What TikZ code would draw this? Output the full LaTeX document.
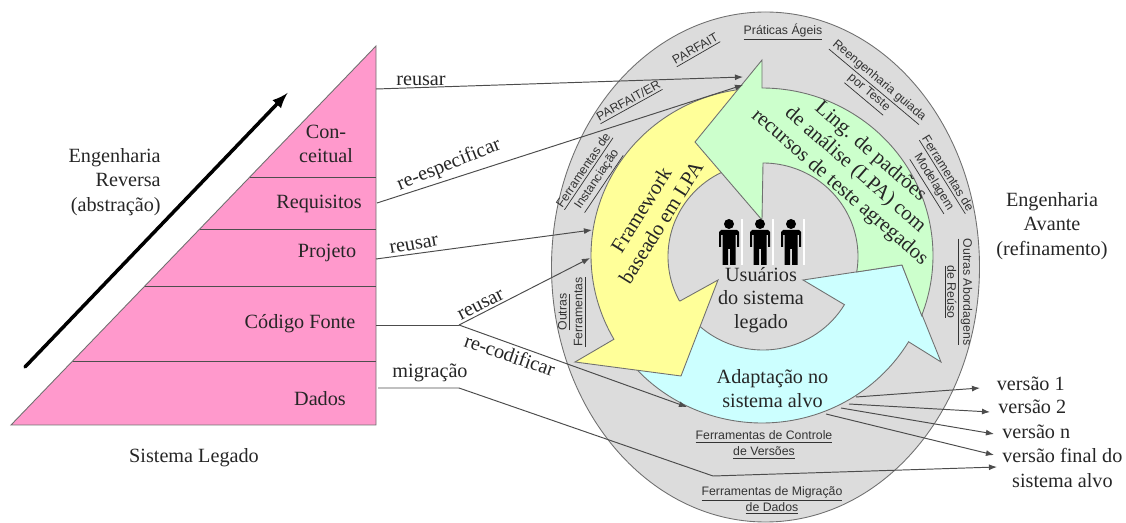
\documentclass[tikz,border=0pt]{standalone}
\usepackage{fontspec}
\setmainfont{Liberation Serif}
\setsansfont{Liberation Sans}
\usetikzlibrary{calc,arrows.meta}
\definecolor{ellipsegray}{HTML}{DCDCDC}
\definecolor{pinklevel}{HTML}{FF99CC}
\definecolor{yellowarrow}{HTML}{FFFF99}
\definecolor{greenarrow}{HTML}{CCFFCC}
\definecolor{cyanarrow}{HTML}{CCFFFF}
\definecolor{edgegray}{HTML}{707070}
\tikzset{
	rimout/.style={x radius=171,y radius=167.5},
	rimin/.style={x radius=95,y radius=93.5},
	band/.style={draw=edgegray,line width=0.5pt,line join=miter},
	seriflabel/.style={font=\fontsize{11.5}{14}\selectfont,align=center,inner sep=0pt,text=black!85},
	seriftight/.style={seriflabel,font=\fontsize{11.5}{13.3}\selectfont},
	arrowtext/.style={seriflabel,font=\fontsize{11.8}{13.4}\selectfont},
	toollabel/.style={font=\sffamily\fontsize{7}{9}\selectfont,align=center,inner sep=0pt,text=black!80},
	link/.style={draw=black!70,line width=0.55pt,-{Latex[length=4.6pt,width=3.4pt]}},
	plainlink/.style={draw=black!70,line width=0.55pt}
}
\newcommand{\rimoutat}[1]{($(762,-255.5)+(#1:171 and 167.5)$)}
\newcommand{\riminat}[1]{($(763,-256.5)+(#1:95 and 93.5)$)}
\begin{document}
\begin{tikzpicture}[x=0.02cm,y=0.02cm]
		\useasboundingbox (0,-523) rectangle (1126,0);
		\coordinate (Apex)  at (376,-46);
		\coordinate (LeftB) at (11,-425);
		\coordinate (RightB) at (376,-425);

		% Sistema legado
		\draw[fill=pinklevel,draw=edgegray,line width=0.5pt] (Apex) -- (LeftB) -- (RightB) -- cycle;
		\foreach \y/\x in {177/249.8,229/199.8,286/144.9,361/72.6}{
			\draw[edgegray!70!black,line width=0.5pt] (\x,-\y) -- (376,-\y);
		}
		\draw[black,line width=2pt,line cap=round,-latex] (25,-367) -- (287.5,-93);

		\node[seriflabel] (conceitual) at (326,-144) {Con-\\ceitual};
		\node[seriflabel] (requisitos) at (319,-204) {Requisitos};
		\node[seriflabel] (projeto) at (327,-253) {Projeto};
		\node[seriflabel] (codigo) at (300,-324) {Código Fonte};
		\node[seriflabel] (dados) at (320,-399) {Dados};
		\node[seriflabel] (legado) at (194,-458) {Sistema Legado};
		\node[seriflabel,align=right,anchor=east] (reversa) at (161,-182) {Engenharia\\Reversa\\(abstração)};
		\node[seriflabel] (avante) at (1052,-226) {Engenharia\\Avante\\(refinamento)};

		% Elipse de ferramentas
		\draw[fill=ellipsegray,draw=edgegray,line width=0.5pt] (765.5,-267) ellipse (214 and 255);

		% Ciclo de tres setas
		\draw[band,fill=cyanarrow] \rimoutat{-31} arc[rimout,start angle=-31,end angle=-142]
			-- \riminat{-140} arc[rimin,start angle=-140,end angle=-31]
			-- (803,-280) -- (902,-265) -- (941,-362) -- cycle;
		\draw[band,fill=yellowarrow] \rimoutat{95} arc[rimout,start angle=95,end angle=210]
			-- (575,-362) -- (681,-376) -- (718,-280) -- (680,-301)
			-- \riminat{208} arc[rimin,start angle=208,end angle=100] -- cycle;
		\draw[band,fill=greenarrow] \rimoutat{90} arc[rimout,start angle=90,end angle=-21]
			-- (902,-265) -- \riminat{-9.5} arc[rimin,start angle=-9.5,end angle=90]
			-- (762,-220) -- (695,-142) -- (762,-60) -- cycle;

		% Usuarios
		\foreach \x in {729,760,791}{
			\begin{scope}[shift={(\x,0)}]
				\draw[white,line width=0.7pt] (13,-219) -- (13,-265);
				\fill[black] (0,-224) circle (5);
				\fill[black] (-8,-230) -- (8,-230) -- (10,-232) -- (10,-247) -- (8,-247) -- (8,-235)
					-- (6.5,-235) -- (6.5,-265) -- (1,-265) -- (1,-249) -- (-1,-249) -- (-1,-265)
					-- (-6.5,-265) -- (-6.5,-235) -- (-8,-235) -- (-8,-247) -- (-10,-247) -- (-10,-232) -- cycle;
			\end{scope}
		}

		\node[seriftight] (usuarios) at (761,-300) {Usuários\\do sistema\\legado};
		\node[seriftight] (adaptacao) at (772.5,-388.5) {Adaptação no\\sistema alvo};
		\node[arrowtext,rotate=-41] (ling) at (855,-170) {Ling. de padrões\\de análise (LPA) com\\recursos de teste agregados};
		\node[arrowtext,rotate=58] (framework) at (651,-216) {Framework\\baseado em LPA};

		% Ferramentas
		\node[toollabel] (praticas) at (783,-32) {\underline{Práticas Ágeis}};
		\node[toollabel,rotate=30] (parfait) at (696,-50) {\underline{PARFAIT}};
		\node[toollabel,rotate=29] (parfaiter) at (629,-102) {\underline{PARFAIT/ER}};
		\node[toollabel,rotate=56] (instancia) at (592,-176) {\underline{Ferramentas de}\\\underline{Instanciação}};
		\node[toollabel,rotate=-40] (reeng) at (873,-88) {\underline{Reengenharia guiada}\\\underline{por Teste}};
		\node[toollabel,rotate=-58] (modelagem) at (939,-179) {\underline{Ferramentas de}\\\underline{Modelagem}};
		\node[toollabel,rotate=-90] (reuso) at (958,-292) {\underline{Outras Abordagens}\\\underline{de Reúso}};
		\node[toollabel,rotate=90] (outras) at (572,-312) {\underline{Outras}\\\underline{Ferramentas}};
		\node[toollabel] (controle) at (764,-445) {\underline{Ferramentas de Controle}\\\underline{de Versões}};
		\node[toollabel] (migracao) at (772,-500.5) {\underline{Ferramentas de Migração}\\\underline{de Dados}};

		% Versoes
		\node[seriflabel,anchor=west] (v1) at (996.5,-384) {versão 1};
		\node[seriflabel,anchor=west] (v2) at (998,-407) {versão 2};
		\node[seriflabel,anchor=west] (vn) at (1002,-432) {versão n};
		\node[seriflabel,anchor=west,align=center] (vfinal) at (1002,-468) {versão final do\\sistema alvo};

		% Ligacoes
		\coordinate (ConceitualOut) at (376,-89);
		\coordinate (RequisitosOut) at (377,-203);
		\coordinate (ProjetoOut) at (376,-259);
		\coordinate (CodigoOut) at (376,-325);
		\coordinate (CodigoFork) at (459,-325);
		\coordinate (DadosOut) at (378,-388);
		\coordinate (DadosMid1) at (459,-388);
		\coordinate (DadosMid2) at (713,-476);
		\coordinate (GreenIn1) at (743,-77);
		\coordinate (GreenIn2) at (743,-85);
		\coordinate (YellowIn1) at (592,-230);
		\coordinate (YellowIn2) at (590,-258);
		\coordinate (CyanIn) at (687,-407);
		\draw[link] (ConceitualOut) -- (GreenIn1);
		\draw[link] (RequisitosOut) -- (GreenIn2);
		\draw[link] (ProjetoOut) -- (YellowIn1);
		\draw[plainlink] (CodigoOut) -- (CodigoFork);
		\draw[link] (CodigoFork) -- (YellowIn2);
		\draw[link] (CodigoFork) -- (CyanIn);
		\draw[plainlink] (DadosOut) -- (DadosMid1) -- (DadosMid2);
		\draw[link] (DadosMid2) -- (997,-467);
		\coordinate (Out1) at (856,-397);
		\coordinate (Out2) at (849,-404);
		\coordinate (Outn) at (841,-408);
		\coordinate (OutF) at (826,-414);
		\draw[link] (Out1) -- (980,-388);
		\draw[link] (Out2) -- (990,-412);
		\draw[link] (Outn) -- (994,-434);
		\draw[link] (OutF) -- (994,-455);

		\node[seriflabel] (lreusarA) at (421,-81) {reusar};
		\node[seriflabel,rotate=22] (lrespec) at (449,-165) {re-especificar};
		\node[seriflabel,rotate=10] (lreusarB) at (414,-245) {reusar};
		\node[seriflabel,rotate=27] (lreusarC) at (481,-305) {reusar};
		\node[seriflabel,rotate=-19] (lrecod) at (510,-355) {re-codificar};
		\node[seriflabel] (lmigra) at (430,-373) {migração};
	  \end{tikzpicture}
\end{document}
